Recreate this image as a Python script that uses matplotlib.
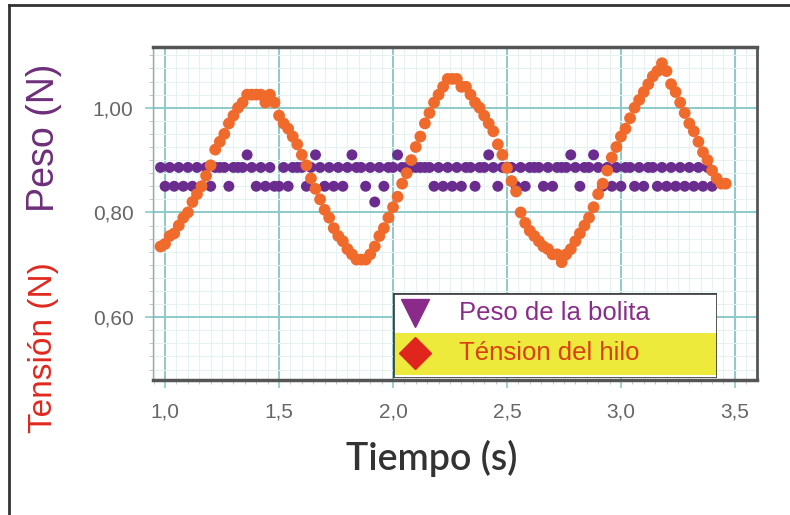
import numpy as np
import matplotlib.pyplot as plt
from matplotlib.ticker import MultipleLocator, FuncFormatter
from matplotlib.patches import Rectangle
from matplotlib.lines import Line2D

# sampled every 0.02 s
t0_tension = 0.98
t0_peso = 0.98
dt = 0.02

tension = [0.735, 0.74, 0.755, 0.76, 0.775, 0.79, 0.80, 0.82, 0.835, 0.85,
           0.87, 0.89, 0.92, 0.935, 0.95, 0.97, 0.985, 1.00, 1.01, 1.025,
           1.025, 1.025, 1.025, 1.01, 1.025, 1.01, 0.985, 0.97, 0.96, 0.945,
           0.93, 0.91, 0.89, 0.865, 0.845, 0.825, 0.805, 0.79, 0.77, 0.755,
           0.745, 0.73, 0.72, 0.71, 0.71, 0.71, 0.72, 0.735, 0.755, 0.77,
           0.79, 0.81, 0.83, 0.855, 0.875, 0.90, 0.925, 0.945, 0.97, 0.99,
           1.01, 1.025, 1.04, 1.055, 1.055, 1.055, 1.04, 1.04, 1.025, 1.01,
           1.00, 0.985, 0.97, 0.955, 0.93, 0.91, 0.885, 0.86, 0.84, 0.80,
           0.78, 0.765, 0.755, 0.745, 0.735, 0.73, 0.72, 0.72, 0.705, 0.72,
           0.73, 0.745, 0.76, 0.775, 0.79, 0.81, 0.835, 0.855, 0.88, 0.905,
           0.925, 0.945, 0.96, 0.98, 1.00, 1.015, 1.03, 1.045, 1.06, 1.07,
           1.085, 1.07, 1.045, 1.03, 1.01, 0.99, 0.97, 0.955, 0.935, 0.915,
           0.90, 0.88, 0.865, 0.855, 0.855]

peso = [0.886, 0.85, 0.886, 0.85, 0.886, 0.85, 0.886, 0.85, 0.886, 0.85,
        0.886, 0.85, 0.886, 0.886, 0.886, 0.85, 0.886, 0.886, 0.886, 0.91,
        0.886, 0.85, 0.886, 0.85, 0.886, 0.85, 0.85, 0.886, 0.85, 0.886,
        0.886, 0.886, 0.85, 0.886, 0.91, 0.886, 0.85, 0.886, 0.85, 0.886,
        0.85, 0.886, 0.91, 0.886, 0.886, 0.85, 0.886, 0.82, 0.886, 0.85,
        0.886, 0.886, 0.91, 0.886, 0.886, 0.886, 0.886, 0.886, 0.886, 0.886,
        0.85, 0.886, 0.85, 0.886, 0.85, 0.886, 0.85, 0.886, 0.886, 0.85,
        0.886, 0.886, 0.91, 0.886, 0.85, 0.886, 0.886, 0.886, 0.85, 0.886,
        0.85, 0.886, 0.886, 0.886, 0.85, 0.886, 0.85, 0.886, 0.886, 0.886,
        0.91, 0.886, 0.85, 0.886, 0.886, 0.91, 0.886, 0.85, 0.886, 0.85,
        0.886, 0.85, 0.886, 0.886, 0.85, 0.886, 0.85, 0.886, 0.886, 0.85,
        0.886, 0.85, 0.886, 0.85, 0.886, 0.85, 0.886, 0.85, 0.886, 0.85,
        0.886, 0.85]

t_tension = t0_tension + dt * np.arange(len(tension))
t_peso = t0_peso + dt * np.arange(len(peso))

xticks = [1.0, 1.5, 2.0, 2.5, 3.0, 3.5]
yticks = [0.60, 0.80, 1.00]

orange = '#f06a2c'
purple = '#6a2c8e'
grid_major = '#8ccaca'
grid_minor = '#e6f2f2'

plt.rcParams['font.family'] = ['Liberation Sans', 'DejaVu Sans']

fig = plt.figure(figsize=(7.9, 5.15), dpi=100)
ax = fig.add_axes([153/790, 1-380/515, (757-153)/790, (380-47)/515])

ax.scatter(t_peso, peso, s=62, color=purple, edgecolors='none', zorder=3)
ax.scatter(t_tension, tension, s=72, color=orange, edgecolors='none', zorder=4)

ax.set_xlim(0.947, 3.597)
ax.set_ylim(0.48, 1.116)
ax.set_xticks(xticks)
ax.set_yticks(yticks)
ax.xaxis.set_minor_locator(MultipleLocator(0.05))
ax.yaxis.set_minor_locator(MultipleLocator(0.025))
ax.xaxis.set_major_formatter(FuncFormatter(lambda v, p: f'{v:.1f}'.replace('.', ',')))
ax.yaxis.set_major_formatter(FuncFormatter(lambda v, p: f'{v:.2f}'.replace('.', ',')))

ax.grid(which='minor', color=grid_minor, lw=0.8, zorder=0)
ax.grid(which='major', color=grid_major, lw=1.4, zorder=1)
ax.set_axisbelow(True)

ax.tick_params(axis='both', which='major', labelsize=15, labelcolor='#666666',
               color=grid_major, length=6, width=1.2)
ax.tick_params(axis='both', which='minor', color='#bbbbbb', length=3)
ax.tick_params(axis='x', pad=10)
ax.tick_params(axis='y', pad=8)

for s in ['top', 'bottom']:
    ax.spines[s].set_color('#555555')
    ax.spines[s].set_linewidth(2.5)
ax.spines['right'].set_color('#555555')
ax.spines['right'].set_linewidth(2.0)
ax.spines['left'].set_color('#9aa8aa')
ax.spines['left'].set_linewidth(1.0)

# axis titles
fig.text(432/790, 1-458/515, 'Tiempo (s)', ha='center', va='center',
         fontsize=27, color='#333333', family=['Lato', 'DejaVu Sans'], weight='semibold')
fig.text(44/790, 1-348/515, 'Tensión (N)', rotation=90, ha='center', va='center',
         fontsize=24, color='#e0281e')
fig.text(44/790, 1-138/515, 'Peso (N)', rotation=90, ha='center', va='center',
         fontsize=27, color='#6e2f7a')

# legend box
lax = fig.add_axes([393/790, 1-378/515, (717-393)/790, (378-293)/515])
lax.set_xlim(0, 1)
lax.set_ylim(0, 1)
lax.axis('off')
lax.add_patch(Rectangle((0, 0), 1, 1, facecolor='white', edgecolor='none'))
lax.add_patch(Rectangle((0, 0.03), 1, 0.5, facecolor='#eeea3c', edgecolor='none'))
lax.add_patch(Rectangle((0, 0), 1, 1, facecolor='none', edgecolor='#444444', lw=2))
lax.plot([0.068], [0.76], marker='v', markersize=20, color='#8a2a8a', clip_on=False)
lax.plot([0.068], [0.29], marker='D', markersize=16, color='#e0261c', clip_on=False)
lax.text(0.205, 0.76, 'Peso de la bolita', va='center', ha='left', fontsize=18.5, color='#8a2d8a')
lax.text(0.205, 0.29, 'Ténsion del hilo', va='center', ha='left', fontsize=18.5, color='#d8400f')

# outer frame (top and left edges)
fig.add_artist(Line2D([9/790, 1], [1-5/515, 1-5/515], color='#333333', lw=2))
fig.add_artist(Line2D([9/790, 9/790], [0, 1-5/515], color='#333333', lw=2))

fig.savefig('out.png', dpi=100)
